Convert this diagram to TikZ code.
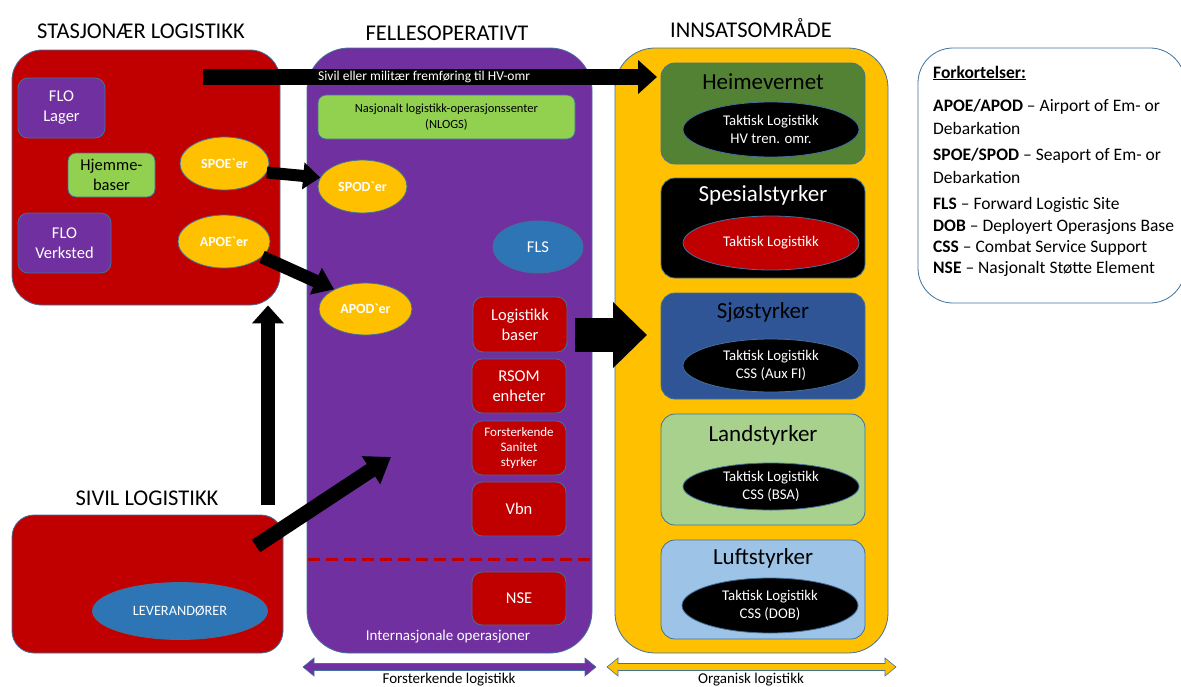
\documentclass[tikz,border=0pt]{standalone}
\usepackage{fontspec}
\setmainfont{Carlito}
\newfontfamily\rawcarl{Carlito}[Ligatures=ResetAll]
\usetikzlibrary{arrows.meta,shapes.geometric}
\definecolor{cred}{HTML}{C00000}
\definecolor{cpurple}{HTML}{7030A0}
\definecolor{cgreen}{HTML}{92D050}
\definecolor{corange}{HTML}{FFC000}
\definecolor{cblue}{HTML}{2E75B6}
\definecolor{chv}{HTML}{548235}
\definecolor{csjo}{HTML}{2F5597}
\definecolor{cland}{HTML}{A9D18E}
\definecolor{cluft}{HTML}{9DC3E6}
\definecolor{cedge}{HTML}{41719C}
\newcommand{\bq}{{\rawcarl\symbol{96}}}
\begin{document}
\begin{tikzpicture}[x=1pt,y=-1pt,
  box/.style={draw=cedge, line width=0.8pt, rounded corners=#1, inner sep=0pt},
  oval/.style={ellipse, draw=cedge, line width=0.8pt, inner sep=0pt},
  wt/.style={text=white, align=center, font=\fontsize{16.5}{20}\selectfont},
  title/.style={font=\fontsize{22.5}{24}\selectfont, inner sep=0pt},
  forcetitle/.style={font=\fontsize{23}{25}\selectfont, inner sep=0pt},
  tl/.style={text=white, align=center, font=\fontsize{14.8}{18.5}\selectfont},
  portlbl/.style={text=white, font=\fontsize{14}{16}\bfseries\selectfont},
  leg/.style={anchor=west, inner sep=0pt, font=\fontsize{17.5}{19}\selectfont},
  bigarrow/.style={line width=#1},
  lbl/.style={font=\fontsize{15}{17}\selectfont, inner sep=0pt}
]
\useasboundingbox (0,0) rectangle (1181,686);

% ---------- titles ----------
\node[title] (t1) at (141,31) {STASJONÆR LOGISTIKK};
\node[title] (t2) at (447,33) {FELLESOPERATIVT};
\node[title] (t3) at (751,28) {INNSATSOMRÅDE};
\node[title] (t4) at (147,498) {SIVIL LOGISTIKK};

% ---------- big containers ----------
\node[box=30, fill=cred, minimum width=268, minimum height=255] (stas) at (146,177.5) {};
\node[box=22, fill=cred, minimum width=271, minimum height=138] (sivil) at (147.5,584) {};
\node[box=42, fill=cpurple, minimum width=285, minimum height=605] (felles) at (449.5,350.5) {};
\node[box=40, fill=corange, minimum width=273, minimum height=605] (inns) at (751.5,350.5) {};
\node[box=35, fill=white, minimum width=267, minimum height=255] (legend) at (1051.5,175.5) {};

% ---------- stasjonaer ----------
\node[box=10, fill=cpurple, minimum width=87, minimum height=60, wt] (flolager) at (61.5,108) {FLO\\Lager};
\node[box=8, fill=cgreen, minimum width=87, minimum height=44, wt, text=black] (hjemme) at (111.5,175) {Hjemme-\\baser};
\node[box=10, fill=cpurple, minimum width=93, minimum height=60, wt] (floverk) at (64.5,243) {FLO\\Verksted};
\node[oval, fill=corange, minimum width=89, minimum height=53, portlbl] (spoe) at (224.5,163.5) {SPOE\bq er};
\node[oval, fill=corange, minimum width=92, minimum height=53, portlbl] (apoe) at (224,241.5) {APOE\bq er};

% ---------- sivil ----------
\node[oval, fill=cblue, minimum width=175, minimum height=57, text=white, font=\fontsize{14.3}{16}\selectfont] (lev) at (180,611) {LEVERANDØRER};

% ---------- fellesoperativt ----------
\node[box=8, fill=cgreen, minimum width=257, minimum height=44, align=center, font=\fontsize{12.5}{16.5}\selectfont] (nlogs) at (446.5,117) {Nasjonalt logistikk-operasjonssenter\\(NLOGS)};
\node[oval, fill=corange, minimum width=89, minimum height=53, portlbl] (spod) at (362.5,186.5) {SPOD\bq er};
\node[oval, fill=cblue, minimum width=90, minimum height=52, wt] (fls) at (538,247) {FLS};
\node[oval, fill=corange, minimum width=93, minimum height=52, portlbl] (apod) at (365.5,309) {APOD\bq er};
\node[box=10, fill=cred, minimum width=94, minimum height=55, wt] (logb) at (520,324.5) {Logistikk\\baser};
\node[box=10, fill=cred, minimum width=94, minimum height=54, wt] (rsom) at (519,386) {RSOM\\enheter};
\node[box=10, fill=cred, minimum width=94, minimum height=54, wt, font=\fontsize{13}{15}\selectfont] (sanitet) at (519,448) {Forsterkende\\Sanitet\\styrker};
\node[box=10, fill=cred, minimum width=94, minimum height=54, wt] (vbn) at (519,509) {Vbn};
\coordinate (dashL) at (308,559);
\coordinate (dashR) at (591,559);
\draw[cred, line width=3pt, dash pattern=on 12pt off 6pt] (dashL) -- (dashR);
\node[box=10, fill=cred, minimum width=94, minimum height=53, wt] (nse) at (519,598.5) {NSE};
\node[lbl, text=white] (intops) at (448,637) {Internasjonale operasjoner};

% ---------- innsatsomraade ----------
\node[box=14, fill=chv, minimum width=204, minimum height=101] (hv) at (763,113.5) {};
\node[forcetitle] (hvt) at (763,82) {Heimevernet};
\node[oval, fill=black, minimum width=176, minimum height=55, tl] (hve) at (771,129.5) {Taktisk Logistikk\\HV tren. omr.};

\node[box=14, fill=black, minimum width=204, minimum height=100] (spes) at (763,228) {};
\node[forcetitle, text=white] (spest) at (763,195) {Spesialstyrker};
\node[oval, fill=cred, minimum width=176, minimum height=54, tl] (spese) at (771,243) {Taktisk Logistikk};

\node[box=14, fill=csjo, minimum width=204, minimum height=106] (sjo) at (763,346) {};
\node[forcetitle] (sjot) at (763,312) {Sjøstyrker};
\node[oval, fill=black, minimum width=176, minimum height=53, tl] (sjoe) at (771,365.5) {Taktisk Logistikk\\CSS (Aux FI)};

\node[box=14, fill=cland, minimum width=204, minimum height=111] (land) at (763,469.5) {};
\node[forcetitle] (landt) at (763,435) {Landstyrker};
\node[oval, fill=black, minimum width=176, minimum height=47, tl] (lande) at (771,486.5) {Taktisk Logistikk\\CSS (BSA)};

\node[box=14, fill=cluft, minimum width=204, minimum height=99] (luft) at (763,589.5) {};
\node[forcetitle] (luftt) at (763,558) {Luftstyrker};
\node[oval, fill=black, minimum width=176, minimum height=55, tl] (lufte) at (770,605.5) {Taktisk Logistikk\\CSS (DOB)};

% ---------- legend ----------
\node[leg] (l0) at (933,73) {\textbf{\underline{Forkortelser:}}};
\node[leg] (l1) at (933,107) {\textbf{APOE/APOD} – Airport of Em- or};
\node[leg] (l2) at (933,128) {Debarkation};
\node[leg] (l3) at (933,156) {\textbf{SPOE/SPOD} – Seaport of Em- or};
\node[leg] (l4) at (933,177) {Debarkation};
\node[leg] (l5) at (933,205) {\textbf{FLS} – Forward Logistic Site};
\node[leg] (l6) at (933,227) {\textbf{DOB} – Deployert Operasjons Base};
\node[leg] (l7) at (933,248) {\textbf{CSS} – Combat Service Support};
\node[leg] (l8) at (933,269) {\textbf{NSE} – Nasjonalt Støtte Element};

% ---------- thick black arrows ----------
\coordinate (topA) at (203,77);
\coordinate (topB) at (657,77);
\draw[bigarrow=16pt, -{Triangle[width=33pt,length=19pt]}] (topA) -- (topB);
\node[anchor=west, inner sep=0pt, text=white, font=\fontsize{13.5}{15}\selectfont] (frem) at (318,77) {Sivil eller militær fremføring til HV-omr};

\draw[bigarrow=12pt, -{Triangle[width=26pt,length=17pt]}] (spoe.-12) -- (spod.168);
\draw[bigarrow=13pt, -{Triangle[width=28pt,length=20pt]}] (apoe.-22) -- (apod.148);

\coordinate (vA) at (268,505);
\draw[bigarrow=14pt, -{Triangle[width=31pt,length=18pt]}] (vA) -- (vA |- stas.south);

\coordinate (dA) at (256,546);
\coordinate (dB) at (391,457);
\draw[bigarrow=15pt, -{Triangle[width=32pt,length=24pt]}] (dA) -- (dB);

\coordinate (rA) at (575,335);
\coordinate (rB) at (647,335);
\draw[bigarrow=34pt, -{Triangle[width=64pt,length=34pt]}] (rA) -- (rB);

% ---------- bottom double arrows ----------
\coordinate (pL) at (303,667);
\coordinate (pR) at (596,667);
\draw[fill=cpurple, draw=cedge, line width=0.6pt]
  (pL) -- ([shift={(11,-9)}]pL) -- ([shift={(11,-3.5)}]pL) -- ([shift={(-11,-3.5)}]pR) -- ([shift={(-11,-9)}]pR)
  -- (pR) -- ([shift={(-11,9)}]pR) -- ([shift={(-11,3.5)}]pR) -- ([shift={(11,3.5)}]pL) -- ([shift={(11,9)}]pL) -- cycle;
\node[lbl] (forst) at (449,680) {Forsterkende logistikk};

\coordinate (oL) at (607,667);
\coordinate (oR) at (896,667);
\draw[fill=corange, draw=cedge, line width=0.6pt]
  (oL) -- ([shift={(11,-9)}]oL) -- ([shift={(11,-3.5)}]oL) -- ([shift={(-11,-3.5)}]oR) -- ([shift={(-11,-9)}]oR)
  -- (oR) -- ([shift={(-11,9)}]oR) -- ([shift={(-11,3.5)}]oR) -- ([shift={(11,3.5)}]oL) -- ([shift={(11,9)}]oL) -- cycle;
\node[lbl] (organ) at (751,680) {Organisk logistikk};

\end{tikzpicture}
\end{document}
